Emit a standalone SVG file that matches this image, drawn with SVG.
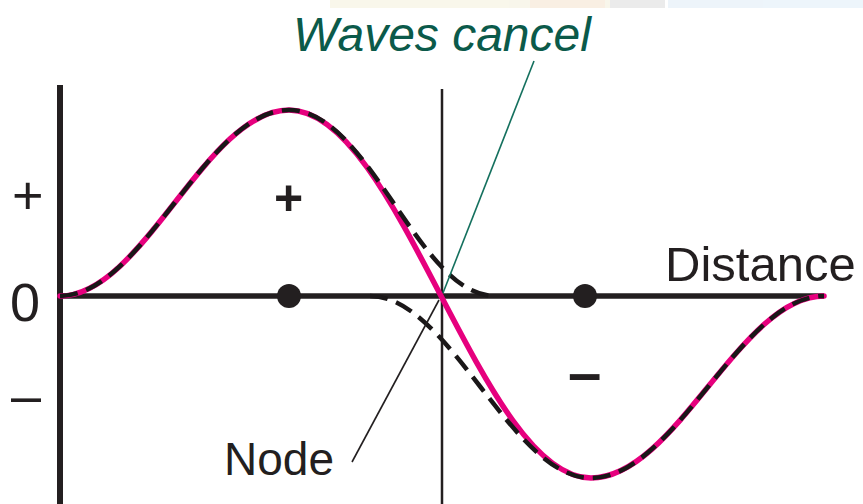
<svg xmlns="http://www.w3.org/2000/svg" width="863" height="504" viewBox="0 0 863 504">
<style>
.lbl{font-family:"Liberation Sans",Arial,sans-serif;fill:#231f20}
.axis{stroke:#231f20;fill:none}
.pink{stroke:#e6007e;stroke-width:5.5;fill:none;stroke-linecap:round}
.dash{stroke:#1a1718;stroke-width:4.5;fill:none;stroke-dasharray:18 9}
.lead{fill:none;stroke-width:1.6}
</style>
<rect width="863" height="504" fill="#ffffff"/>
<g id="watermark" opacity="0.5">
<rect x="330" y="0" width="280" height="8" fill="#f3efd8"/>
<rect x="530" y="0" width="75" height="8" fill="#f5e0c8"/>
<rect x="610" y="0" width="55" height="8" fill="#d8d8d8"/>
<rect x="668" y="0" width="195" height="8" fill="#dcebf7"/>
</g>
<g id="axes">
<line class="axis" x1="60" y1="85" x2="60" y2="504" stroke-width="6"/>
<line class="axis" x1="442" y1="89" x2="442" y2="504" stroke-width="2.5"/>
<line class="axis" x1="60" y1="296" x2="824" y2="296" stroke-width="5.5"/>
</g>
<g id="waves">
<path id="sum-wave" class="pink" d="M60,296 C143,296 206,110 289,110 C399,110 481,478 591,478 C676,478 740,296 824,296"/>
<path id="wave-1" class="dash" d="M60,296 C143,296 206,110 289,110 C370,110 418,296 495,296"/>
<path id="wave-2" class="dash" d="M370,296 C450,296 511,478 591,478 C676,478 740,296 824,296"/>
</g>
<g id="node-dots" fill="#231f20">
<circle cx="289" cy="296" r="12"/>
<circle cx="585" cy="296" r="12"/>
</g>
<g id="connectors">
<line class="lead" x1="534" y1="61" x2="443" y2="293" stroke="#14705e"/>
<line class="lead" x1="352" y1="462" x2="439" y2="300" stroke="#231f20"/>
</g>
<g id="labels">
<text class="lbl" x="12" y="214" font-size="54">+</text>
<text class="lbl" x="10" y="321" font-size="54">0</text>
<text class="lbl" x="11" y="414" font-size="54">–</text>
<text class="lbl" x="274" y="215" font-size="50" font-weight="bold">+</text>
<text class="lbl" x="568" y="393" font-size="60" font-weight="bold">–</text>
<text class="lbl" x="665" y="281" font-size="49">Distance</text>
<text class="lbl" x="224" y="475" font-size="46">Node</text>
<text x="293" y="51" font-size="48" font-style="italic" font-family="'Liberation Sans',Arial,sans-serif" fill="#0b5a4a">Waves cancel</text>
</g>
</svg>
